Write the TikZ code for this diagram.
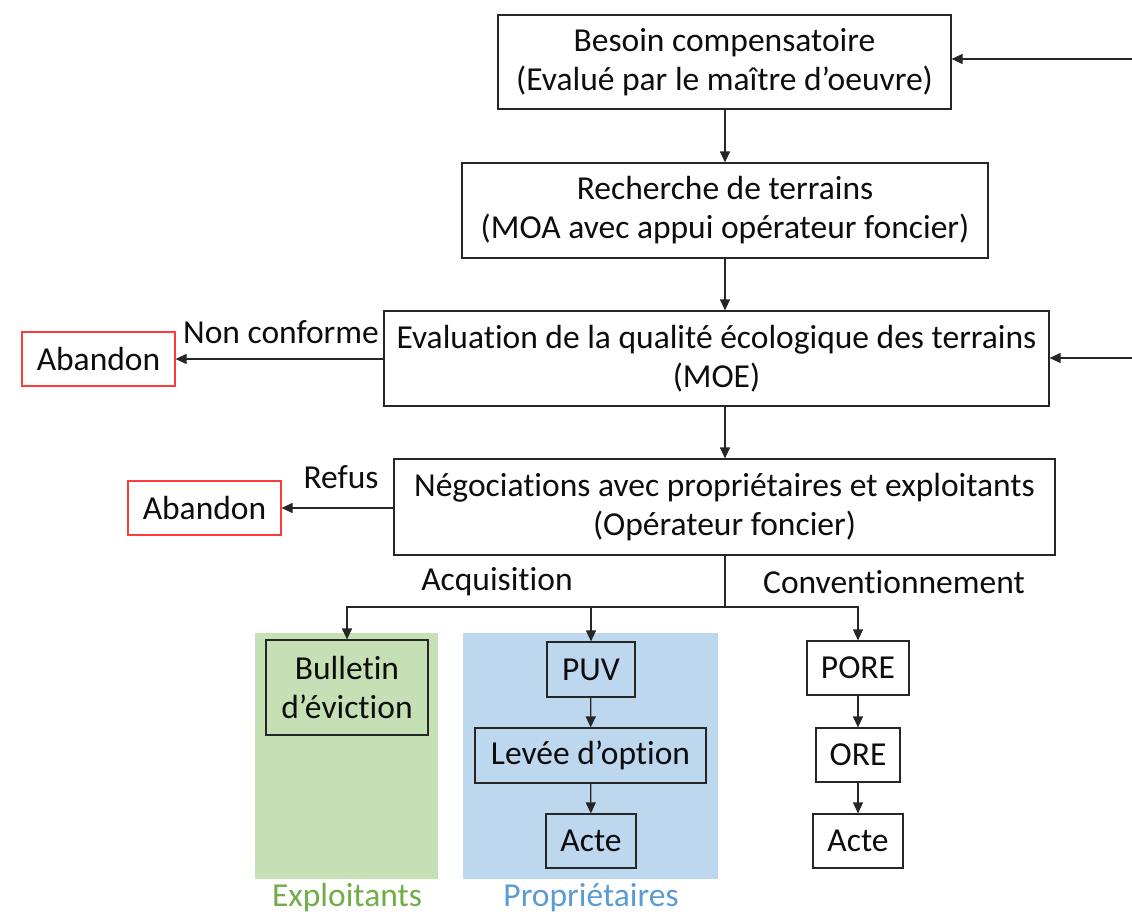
\documentclass[tikz,border=0pt]{standalone}
\usepackage{fontspec}
\setmainfont{Carlito}[Ligatures=NoCommon]
\usepackage{tikz}
\usetikzlibrary{arrows.meta,positioning}
\usepackage{xcolor}
\definecolor{lineg}{RGB}{38,38,38}
\definecolor{abred}{RGB}{255,60,60}
\definecolor{expgreen}{RGB}{197,224,180}
\definecolor{propblue}{RGB}{189,215,238}
\definecolor{exptext}{RGB}{112,173,71}
\definecolor{proptext}{RGB}{91,155,213}

\begin{document}
\begin{tikzpicture}[
    x=1pt,y=-1pt,
    every node/.style={font=\fontsize{33.5}{39}\selectfont,text=black!95},
    box/.style={rectangle,draw=lineg,line width=1.2pt,fill=white,
                inner sep=0pt,align=center},
    abbox/.style={box,draw=abred,minimum width=153pt,minimum height=54pt},
    group/.style={rectangle,inner sep=0pt,minimum width=#1,minimum height=246pt},
    arr/.style={-{Triangle[length=11pt,width=10pt]},line width=1.2pt,lineg},
    lbl/.style={inner sep=0pt},
  ]
    \useasboundingbox (0,0) rectangle (1132,913);
    % main chain
    \node[box,minimum width=453pt,minimum height=94pt] (besoin) at (724.5,62)
      {Besoin compensatoire\\(Evalué par le maître d’oeuvre)};
    \node[box,minimum width=526pt,minimum height=95pt] (rech) at (725,210.5)
      {Recherche de terrains\\(MOA avec appui opérateur foncier)};
    \node[box,minimum width=665pt,minimum height=95pt] (eval) at (716.5,358.5)
      {Evaluation de la qualité écologique des terrains\\(MOE)};
    \node[box,minimum width=661pt,minimum height=96pt] (nego) at (724.5,507)
      {Négociations avec propriétaires et exploitants\\(Opérateur foncier)};
    \node[abbox] (aband1) at (98.5,359) {Abandon};
    \node[abbox] (aband2) at (204.5,508) {Abandon};
    \coordinate (retour1) at (1132,59);
    \coordinate (retour2) at (1132,358);

    \draw[arr] (besoin.south -| rech.north) -- (rech.north);
    \draw[arr] (rech) -- (rech |- eval.north);
    \draw[arr] (rech |- eval.south) -- (rech |- nego.north);
    \draw[arr] (eval.west |- aband1) -- (aband1);
    \draw[arr] (nego.west |- aband2) -- (aband2);
    \node[lbl] (nonconf) at (281,332) {Non conforme};
    \node[lbl] (refus) at (341,477) {Refus};
    \draw[arr] (retour1) -- (retour1 -| besoin.east);
    \draw[arr] (retour2) -- (retour2 -| eval.east);

    % groups
    \node[group=183pt,fill=expgreen] (grpexp) at (346.5,756) {};
    \node[group=255pt,fill=propblue] (grpprop) at (590.5,756) {};
    \node[lbl,text=exptext] (exp) at (347,898) {Exploitants};
    \node[lbl,text=proptext] (prop) at (591,898) {Propriétaires};

    \node[box,fill=none,minimum width=162pt,minimum height=95pt] (bull) at (347,687.5)
      {Bulletin\\d’éviction};
    \node[box,fill=none,minimum width=88pt,minimum height=55pt] (puv) at (591,669.5) {PUV};
    \node[box,fill=none,minimum width=231pt,minimum height=55pt] (levee) at (590.5,755.5) {Levée d’option};
    \node[box,fill=none,minimum width=90pt,minimum height=54pt] (acte1) at (591,841) {Acte};
    \node[box,minimum width=102pt,minimum height=54pt] (pore) at (858,668) {PORE};
    \node[box,minimum width=84pt,minimum height=54pt] (ore) at (858,755) {ORE};
    \node[box,minimum width=90pt,minimum height=54pt] (acte2) at (858,841) {Acte};

    % branches below the negotiation
    \coordinate (split) at (725,607);
    \draw[line width=1.2pt,lineg] (nego.south -| split) -- (split);
    \draw[arr] (split) -| (bull);
    \draw[arr] (split) -| (puv);
    \draw[arr] (split) -| (pore);
    \node[lbl] (acq) at (497,582) {Acquisition};
    \node[lbl] (conv) at (894,582) {Conventionnement};

    \draw[arr] (puv) -- (levee);
    \draw[arr] (levee) -- (acte1);
    \draw[arr] (pore) -- (ore);
    \draw[arr] (ore) -- (acte2);
  \end{tikzpicture}
\end{document}
